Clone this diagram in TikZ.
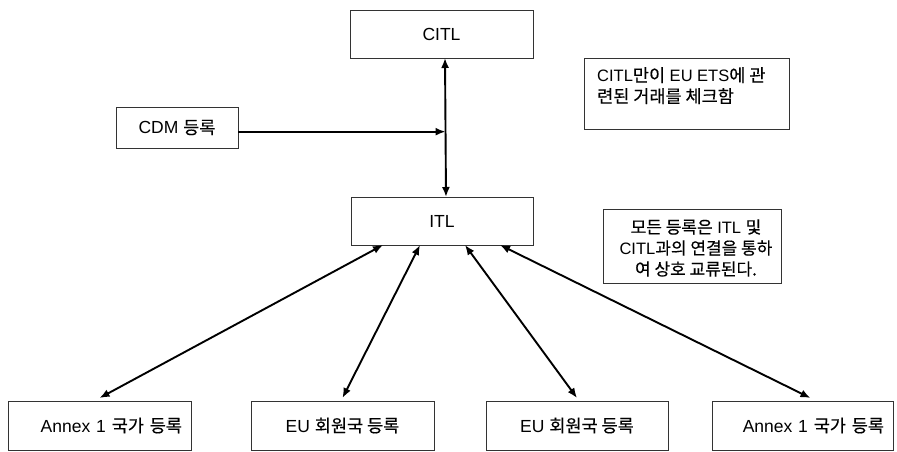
\documentclass[tikz,border=0pt]{standalone}
\usepackage{fontspec}
\setmainfont{Liberation Sans}
\newfontfamily\kr[FakeBold=0.4]{Noto Sans CJK KR}
\usetikzlibrary{arrows.meta,calc}
\tikzset{
  box/.style={draw=black!80, line width=0.9pt, inner sep=0pt, outer sep=0pt,
    font=\fontsize{17.5}{20}\selectfont},
  txt/.style={font=\fontsize{16.5}{21}\selectfont, inner sep=0pt},
  link/.style={line width=1.9pt, {Latex[length=10pt,width=8pt]}-{Latex[length=10pt,width=8pt]}},
  oneway/.style={line width=1.9pt, -{Latex[length=10pt,width=8pt]}}
}
\newcommand{\hk}[1]{{\kr\fontsize{17.5}{21}\selectfont #1}}
\newcommand{\hn}[1]{{\kr\fontsize{17}{21}\selectfont #1}}
\begin{document}
\begin{tikzpicture}[x=1pt,y=-1pt]
\useasboundingbox (0,0) rectangle (897,452);
% central registries
\node[box, minimum width=183, minimum height=48] (citl) at (441.5,34) {CITL};
\node[box, minimum width=182, minimum height=48] (itl) at (442,221) {ITL};
\node[box, minimum width=122, minimum height=41] (cdm) at (177,127.5) {CDM \hk{등록}};
% notes
\node[box, minimum width=205, minimum height=71] (note1) at (686.5,93.5) {};
\node[txt, anchor=north west, align=left] (note1t) at ($(note1.north west)+(13,9)$)
  {CITL\hk{만이} EU ETS\hk{에 관}\\\hk{련된 거래를 체크함}};
\node[box, minimum width=178, minimum height=74] (note2) at (692,246) {};
\node[txt, align=center] (note2t) at ($(note2.center)+(4,2)$)
  {\hn{모든 등록은} ITL \hn{및}\\CITL\hn{과의 연결을 통하}\\\hn{여 상호 교류된다.}};
% national registries
\node[box, minimum width=183, minimum height=49, text width=165, align=right] (r1) at (99.5,425.5) {Annex 1 \hk{국가 등록}};
\node[box, minimum width=183, minimum height=49] (r2) at (342.5,425.5) {EU \hk{회원국 등록}};
\node[box, minimum width=182, minimum height=49] (r3) at (577,425.5) {EU \hk{회원국 등록}};
\node[box, minimum width=181, minimum height=49, text width=163, align=right] (r4) at (802.5,425.5) {Annex 1 \hk{국가 등록}};
% connectors
\coordinate (top) at ($(citl.south west)+(95,0)$);
\coordinate (bot) at ($(itl.north west)+(95,0)$);
\coordinate (join) at ($(top)!0.53!(bot)$);
\draw[link] (top) -- (bot);
\draw[oneway] (cdm.east |- join) -- (join);
\draw[link] ($(itl.south west)+(32,0)$) -- ($(r1.north)+(0,-3)$);
\draw[link] ($(itl.south west)+(69,0)$) -- ($(r2.north)+(0,-3)$);
\draw[link] ($(itl.south west)+(114,0)$) -- ($(r3.north)+(0,-3)$);
\draw[link] ($(itl.south west)+(149,0)$) -- ($(r4.north)+(8,-3)$);
\end{tikzpicture}
\end{document}
